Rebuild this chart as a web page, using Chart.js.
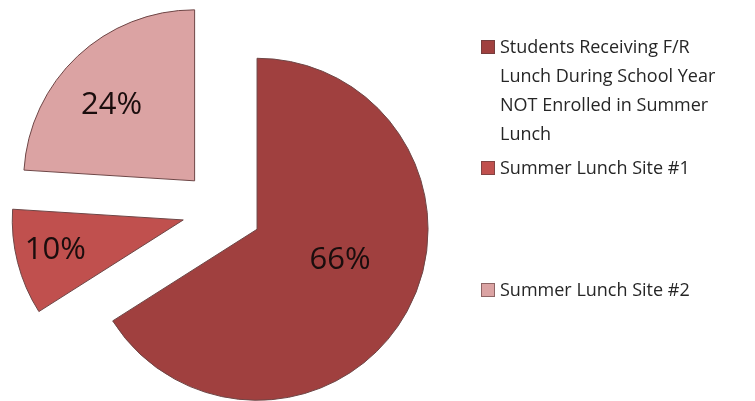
<!DOCTYPE html>
<html lang="en">
<head>
  <meta charset="UTF-8">
  <title>Summer Lunch Participation</title>
  <script src="https://cdn.jsdelivr.net/npm/chart.js"></script>
  <style>
    body { margin: 0; background: #fff; font-family: "Open Sans", sans-serif; }
    #wrap { position: relative; width: 755px; height: 401px; }
    .legend-item { position: absolute; left: 481px; display: flex; align-items: flex-start; color: #262626; font-size: 18px; line-height: 29px; }
    .legend-item .box { width: 14px; height: 14px; margin-top: 8px; margin-right: 5px; box-sizing: border-box; border: 1px solid rgba(90,60,60,0.6); }
  </style>
</head>
<body>
  <div id="wrap">
    <canvas id="pie"></canvas>
    <div id="legend"></div>
  </div>

  <script>
    // data
    const categories = [
      ['Students Receiving F/R', 'Lunch During School Year', 'NOT Enrolled in Summer', 'Lunch'],
      ['Summer Lunch Site #1'],
      ['Summer Lunch Site #2']
    ];
    const shares = [66, 10, 24];
    const valueLabels = ['66%', '10%', '24%'];

    // styling
    const colors = ['#a0403f', '#c0504e', '#dba3a3'];
    const explode = 40;                    // px each slice is pulled out from the centre
    const labelFraction = [0.518, 0.769, 0.658];
    const labelTurn = [-8.3, 1.2, -4.3];   // degrees, nudges label off the mid angle
    const legendTops = [32, 153, 275];

    // pull every slice out along its mid angle (like an exploded Excel pie)
    const explodeSlices = {
      id: 'explodeSlices',
      afterDatasetsUpdate(chart) {
        chart.getDatasetMeta(0).data.forEach(arc => {
          const mid = (arc.startAngle + arc.endAngle) / 2;
          arc.x += Math.cos(mid) * explode;
          arc.y += Math.sin(mid) * explode;
        });
      }
    };

    const sliceLabels = {
      id: 'sliceLabels',
      afterDatasetsDraw(chart) {
        const ctx = chart.ctx;
        const meta = chart.getDatasetMeta(0);
        ctx.save();
        ctx.font = '31px "Open Sans", sans-serif';
        ctx.fillStyle = '#1a0d0d';
        ctx.textAlign = 'center';
        ctx.textBaseline = 'middle';
        meta.data.forEach((arc, i) => {
          const a = (arc.startAngle + arc.endAngle) / 2 + labelTurn[i] * Math.PI / 180;
          const d = labelFraction[i] * arc.outerRadius;
          ctx.fillText(valueLabels[i], arc.x + Math.cos(a) * d, arc.y + Math.sin(a) * d);
        });
        ctx.restore();
      }
    };

    new Chart(document.getElementById('pie'), {
      type: 'pie',
      data: {
        labels: categories,
        datasets: [{
          data: shares,
          backgroundColor: colors,
          borderColor: '#6e4646',
          borderWidth: 1
        }]
      },
      options: {
        responsive: true,
        maintainAspectRatio: false,
        animation: false,
        events: [],
        radius: 171,
        layout: { padding: { left: 0, right: 311, top: 19, bottom: 0 } },
        plugins: {
          legend: { display: false },
          tooltip: { enabled: false }
        }
      },
      plugins: [explodeSlices, sliceLabels]
    });

    // html legend (wrapped lines as in the original)
    const legend = document.getElementById('legend');
    categories.forEach((lines, i) => {
      const item = document.createElement('div');
      item.className = 'legend-item';
      item.style.top = legendTops[i] + 'px';
      item.innerHTML = '<span class="box" style="background:' + colors[i] + '"></span><span>' + lines.join('<br>') + '</span>';
      legend.appendChild(item);
    });
  </script>
</body>
</html>
